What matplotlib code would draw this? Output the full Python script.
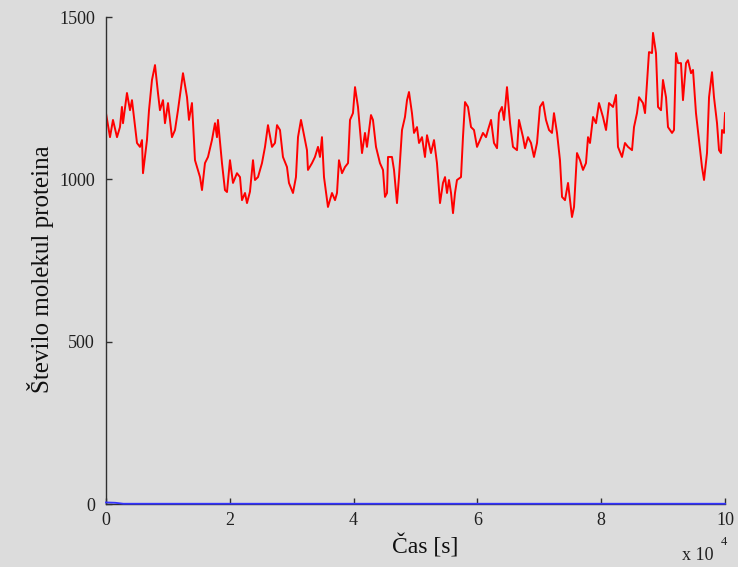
import matplotlib
matplotlib.use("Agg")
import matplotlib.pyplot as plt
from matplotlib.ticker import FuncFormatter

# Casovni potek stevila molekul proteina (odcitano s slike)
# cas v enotah 10^4 s
t_red = [0.000, 0.065, 0.113, 0.178, 0.226, 0.258, 0.275, 0.339, 0.388, 0.420,
         0.501, 0.549, 0.582, 0.598, 0.662, 0.695, 0.743, 0.792, 0.840, 0.872,
         0.921, 0.953, 1.002, 1.066, 1.115, 1.163, 1.244, 1.309, 1.341, 1.389,
         1.438, 1.519, 1.551, 1.599, 1.648, 1.712, 1.761, 1.793, 1.809, 1.874,
         1.922, 1.955, 2.003, 2.052, 2.116, 2.165, 2.197, 2.246, 2.278, 2.326,
         2.375, 2.407, 2.456, 2.520, 2.569, 2.617, 2.682, 2.730, 2.763, 2.811,
         2.859, 2.924, 2.956, 3.021, 3.069, 3.102, 3.150, 3.183, 3.247, 3.263,
         3.328, 3.376, 3.425, 3.457, 3.489, 3.522, 3.586, 3.651, 3.700, 3.732,
         3.764, 3.813, 3.861, 3.910, 3.942, 3.990, 4.023, 4.071, 4.136, 4.184,
         4.216, 4.281, 4.313, 4.362, 4.426, 4.475, 4.507, 4.540, 4.556, 4.620,
         4.653, 4.701, 4.733, 4.782, 4.830, 4.863, 4.895, 4.943, 4.976, 5.024,
         5.057, 5.105, 5.153, 5.186, 5.250, 5.299, 5.347, 5.396, 5.444, 5.477,
         5.509, 5.541, 5.574, 5.606, 5.638, 5.670, 5.735, 5.767, 5.800, 5.848,
         5.897, 5.945, 5.994, 6.042, 6.090, 6.139, 6.171, 6.220, 6.268, 6.317,
         6.349, 6.397, 6.430, 6.478, 6.527, 6.575, 6.640, 6.672, 6.737, 6.769,
         6.817, 6.866, 6.914, 6.963, 7.011, 7.060, 7.108, 7.157, 7.205, 7.237,
         7.286, 7.334, 7.367, 7.415, 7.464, 7.528, 7.561, 7.609, 7.658, 7.706,
         7.754, 7.787, 7.819, 7.868, 7.916, 7.964, 8.029, 8.078, 8.126, 8.191,
         8.239, 8.271, 8.336, 8.384, 8.433, 8.498, 8.530, 8.578, 8.611, 8.675,
         8.708, 8.740, 8.772, 8.821, 8.837, 8.885, 8.918, 8.966, 8.998, 9.047,
         9.079, 9.144, 9.176, 9.208, 9.241, 9.289, 9.321, 9.370, 9.402, 9.451,
         9.483, 9.531, 9.580, 9.628, 9.661, 9.709, 9.742, 9.790, 9.822, 9.871,
         9.903, 9.935, 9.952, 9.984, 10.000]
n_red = [1204, 1130, 1183, 1130, 1161, 1223, 1173, 1266, 1213, 1244,
         1112, 1100, 1121, 1019, 1121, 1213, 1306, 1352, 1266, 1213,
         1244, 1173, 1235, 1130, 1152, 1213, 1327, 1253, 1183, 1235,
         1059, 1007, 967, 1050, 1069, 1121, 1173, 1130, 1183, 1050,
         967, 961, 1059, 989, 1019, 1007, 936, 958, 927, 962,
         1059, 998, 1007, 1050, 1100, 1167, 1100, 1112, 1167, 1152,
         1069, 1038, 989, 958, 1007, 1130, 1183, 1152, 1090, 1029,
         1050, 1069, 1100, 1069, 1130, 1007, 915, 958, 936, 958,
         1059, 1019, 1038, 1050, 1183, 1204, 1284, 1223, 1081, 1143,
         1100, 1198, 1183, 1100, 1050, 1029, 946, 958, 1069, 1069,
         1029, 927, 1007, 1152, 1192, 1244, 1269, 1204, 1143, 1161,
         1112, 1130, 1069, 1136, 1081, 1121, 1050, 927, 989, 1007,
         958, 998, 958, 896, 958, 998, 1007, 1130, 1238, 1223,
         1161, 1152, 1100, 1121, 1143, 1130, 1152, 1183, 1112, 1096,
         1204, 1223, 1183, 1284, 1173, 1100, 1090, 1183, 1130, 1096,
         1130, 1112, 1069, 1112, 1223, 1238, 1183, 1152, 1143, 1204,
         1143, 1059, 946, 936, 989, 884, 915, 1081, 1059, 1029,
         1050, 1130, 1112, 1192, 1173, 1235, 1192, 1152, 1235, 1223,
         1260, 1100, 1069, 1112, 1100, 1090, 1161, 1204, 1253, 1235,
         1204, 1297, 1392, 1389, 1451, 1389, 1223, 1213, 1306, 1253,
         1161, 1143, 1152, 1389, 1358, 1358, 1244, 1358, 1367, 1327,
         1337, 1204, 1121, 1038, 998, 1081, 1253, 1330, 1253, 1173,
         1090, 1081, 1152, 1143, 1204]

# druga vrsta proteina (skoraj nic)
t_blue = [0.0, 0.15, 0.28, 10.0]
n_blue = [5, 4, 1, 1]

xticks = [0, 2, 4, 6, 8, 10]
yticks = [0, 500, 1000, 1500]

bg = "#dcdcdc"
plt.rcParams["font.family"] = ["Liberation Serif", "DejaVu Serif"]

fig = plt.figure(figsize=(7.38, 5.67), dpi=100, facecolor=bg)
ax = fig.add_axes([0.1436, 0.111, 0.8388, 0.859], facecolor=bg)

ax.plot([t * 1e4 for t in t_red], n_red, color="#ff0000", lw=1.4)
ax.plot([t * 1e4 for t in t_blue], n_blue, color="#3333ff", lw=1.3,
        zorder=3, clip_on=False)

ax.set_xlim(0, 1e5)
ax.set_ylim(0, 1500)
ax.set_xticks([x * 1e4 for x in xticks])
ax.set_yticks(yticks)
ax.xaxis.set_major_formatter(FuncFormatter(lambda v, p: "%d" % round(v / 1e4)))

for s in ["top", "right"]:
    ax.spines[s].set_visible(False)
for s in ["left", "bottom"]:
    ax.spines[s].set_color("#303030")
    ax.spines[s].set_linewidth(1.0)
ax.tick_params(direction="in", length=4, width=1, colors="#303030",
               labelsize=13, labelcolor="#202020")
ax.tick_params(axis="y", pad=8)
ax.tick_params(axis="x", pad=6)

ax.set_xlabel("Čas [s]", fontsize=17, color="#101010")
ax.set_ylabel("Število molekul proteina", fontsize=18, color="#101010")
ax.xaxis.set_label_coords(0.516, -0.062)
ax.yaxis.set_label_coords(-0.084, 0.4825)
fig.text(0.924, 0.012, "x 10", fontsize=13, color="#202020")
fig.text(0.976, 0.038, "4", fontsize=9, color="#202020")

fig.savefig("out.png", dpi=100, facecolor=bg)
